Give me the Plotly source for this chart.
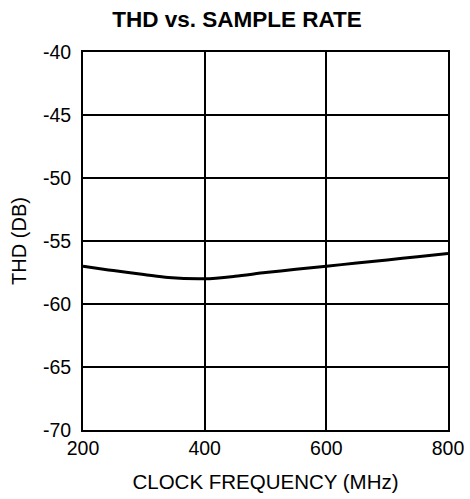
import plotly.graph_objects as go

freq_mhz = [200, 250, 300, 340, 400, 450, 500, 550, 600, 650, 700, 750, 800]
thd_db = [-57.0, -57.35, -57.65, -57.9, -58.0, -57.8, -57.5, -57.25, -57.0, -56.75, -56.5, -56.25, -56.0]

x_ticks = [200, 400, 600, 800]
y_ticks = [-70, -65, -60, -55, -50, -45, -40]

font = "Liberation Sans, Arial, sans-serif"

W, H = 470, 499

fig = go.Figure()
fig.add_trace(go.Scatter(
    x=freq_mhz, y=thd_db, mode="lines",
    line=dict(color="black", width=3, shape="spline", smoothing=0.8),
    showlegend=False, hoverinfo="skip",
))

fig.update_layout(
    width=W, height=H,
    margin=dict(l=83, r=22, t=52, b=69, autoexpand=False),
    paper_bgcolor="white", plot_bgcolor="white",
    title=dict(text="<b>THD vs. SAMPLE RATE</b>", x=237 / W, xanchor="center",
               y=1 - 19 / H, yanchor="middle",
               font=dict(family=font, size=22.5, color="black")),
    font=dict(family=font, color="black"),
)
fig.update_xaxes(
    range=[200, 800], tickvals=x_ticks, ticktext=[str(v) for v in x_ticks],
    showgrid=True, gridcolor="black", gridwidth=1.5,
    showline=True, linecolor="black", linewidth=2, mirror=True,
    zeroline=False, ticks="", ticklabelstandoff=0, automargin=False,
    ticklabeloverflow="allow",
    tickfont=dict(family=font, size=19.5, color="black"),
    title=dict(text="CLOCK FREQUENCY (MHz)", font=dict(family=font, size=20.5, color="black"), standoff=16),
)
fig.update_yaxes(
    range=[-70, -40], tickvals=y_ticks, ticktext=[str(v) for v in y_ticks],
    showgrid=True, gridcolor="black", gridwidth=1.5,
    showline=True, linecolor="black", linewidth=2, mirror=True,
    zeroline=False, ticks="", ticklabelstandoff=6, automargin=False,
    ticklabeloverflow="allow",
    tickfont=dict(family=font, size=19.5, color="black"),
    title=dict(text="THD (DB)", font=dict(family=font, size=20, color="black"), standoff=11),
)

fig.write_html(
    "out.html",
    config={"displayModeBar": False},
    post_script="document.body.style.margin='0';document.documentElement.style.overflow='hidden';",
)
